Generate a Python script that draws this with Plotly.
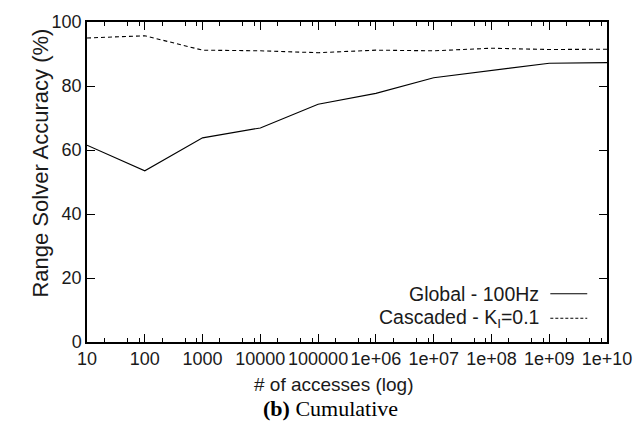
import plotly.graph_objects as go

# Number of accesses (log scale) and accuracy of the two range solvers
accesses = [1e1, 1e2, 1e3, 1e4, 1e5, 1e6, 1e7, 1e8, 1e9, 1e10]
tick_labels = ["10", "100", "1000", "10000", "100000", "1e+06", "1e+07",
               "1e+08", "1e+09", "1e+10"]
global_100hz = [61.5, 53.5, 63.8, 66.9, 74.3, 77.7, 82.6, 84.9, 87.1, 87.3]
cascaded_ki = [95.0, 95.7, 91.2, 91.0, 90.4, 91.2, 91.0, 91.8, 91.4, 91.5]
y_ticks = [0, 20, 40, 60, 80, 100]

minor_vals = [m * 10 ** k for k in range(1, 10) for m in (2, 5, 8)]

FONT = "Liberation Sans, Arial, Helvetica, sans-serif"
INK = "#1a1a1a"

fig = go.Figure()
fig.add_trace(go.Scatter(x=accesses, y=global_100hz, mode="lines",
                         name="Global - 100Hz",
                         line=dict(color="black", width=1.1)))
fig.add_trace(go.Scatter(x=accesses, y=cascaded_ki, mode="lines",
                         name="Cascaded - K<sub>I</sub>=0.1",
                         line=dict(color="black", width=1.1, dash="4px,3px")))

axis_common = dict(
    showline=True, linecolor="black", linewidth=1.5, mirror="allticks",
    ticks="inside", tickcolor="black", tickwidth=1.2, ticklen=8,
    showgrid=False, zeroline=False,
    tickfont=dict(family=FONT, size=18, color=INK),
)

fig.update_xaxes(
    type="log", range=[1, 10],
    tickmode="array", tickvals=accesses, ticktext=tick_labels,
    minor=dict(tickmode="array", tickvals=minor_vals, ticks="inside",
               ticklen=4, tickcolor="black", tickwidth=1.2, showgrid=False),
    **axis_common,
)
fig.update_yaxes(range=[0, 100], tickmode="array", tickvals=y_ticks, **axis_common)

# Axis titles
fig.add_annotation(x=0.474, y=-0.133, xref="paper", yref="paper",
                   text="# of accesses (log)", showarrow=False,
                   xanchor="center", yanchor="middle",
                   font=dict(family=FONT, size=19, color=INK))
fig.add_annotation(x=-0.0895, y=0.559, xref="paper", yref="paper",
                   text="Range Solver Accuracy (%)", showarrow=False,
                   textangle=-90, xanchor="center", yanchor="middle",
                   font=dict(family=FONT, size=22, color=INK))

# gnuplot-style legend: right-aligned labels with the line sample on the right
legend_rows = [("Global - 100Hz", None, 0.151),
               ("Cascaded - K<sub>I</sub>=0.1", "3px,2px", 0.074)]
for text, dash, yp in legend_rows:
    fig.add_annotation(x=0.874, y=yp, xref="paper", yref="paper", text=text,
                       showarrow=False, xanchor="right", yanchor="middle",
                       font=dict(family=FONT, size=19.5, color=INK))
    fig.add_shape(type="line", xref="paper", yref="paper",
                  x0=0.891, x1=0.962, y0=yp, y1=yp,
                  line=dict(color="black", width=1.1, dash=dash or "solid"))

fig.add_annotation(x=0.469, y=-0.208, xref="paper", yref="paper",
                   text="<b>(b)</b> Cumulative", showarrow=False,
                   xanchor="center", yanchor="middle",
                   font=dict(family="Liberation Serif, Times New Roman, serif",
                             size=22, color="black"))

fig.update_layout(
    width=644, height=435,
    margin=dict(l=87, r=32, t=18, b=93),
    paper_bgcolor="white", plot_bgcolor="white",
    showlegend=False,
)

fig.write_html("out.html")
